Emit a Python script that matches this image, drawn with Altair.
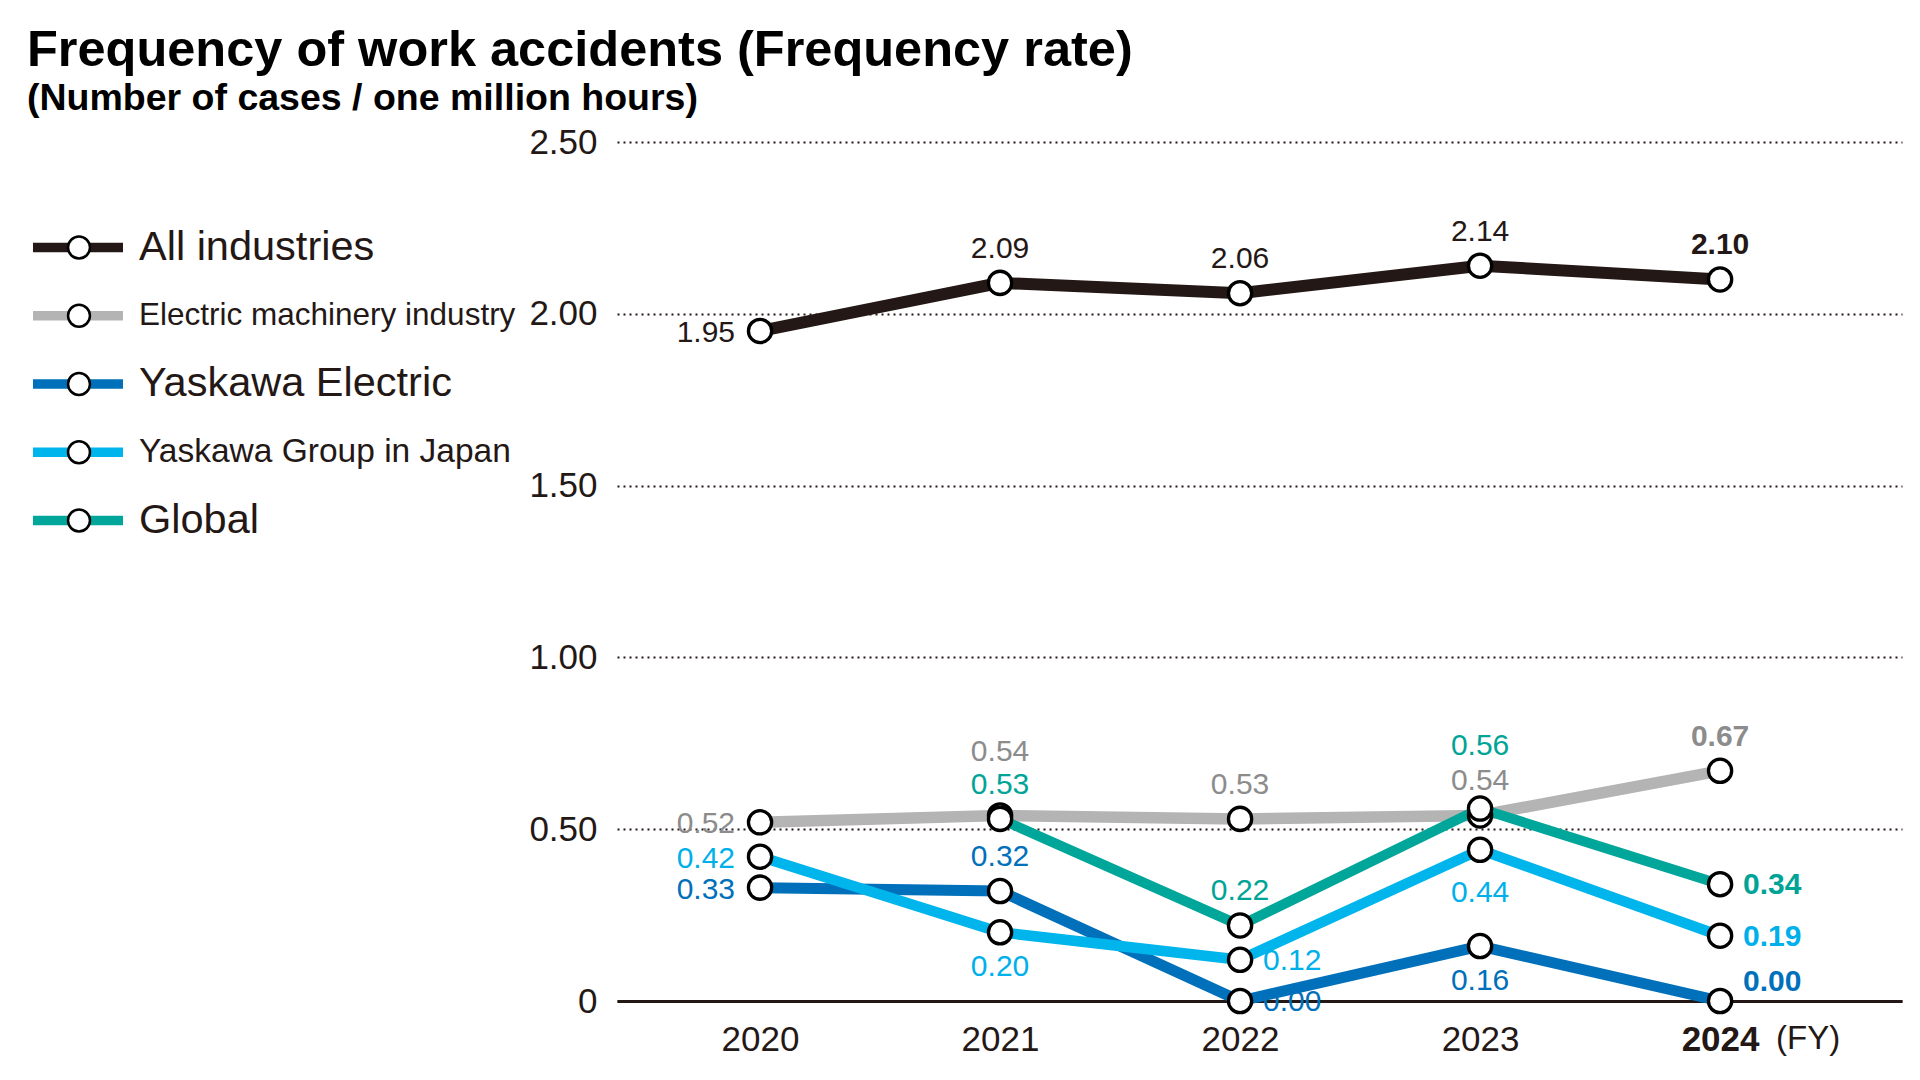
import altair as alt
import pandas as pd

# ---------------- data ----------------
YEARS = [2020, 2021, 2022, 2023, 2024]
SERIES = ["All industries", "Electric machinery industry", "Yaskawa Electric",
          "Yaskawa Group in Japan", "Global"]
ALL_INDUSTRIES = [1.95, 2.09, 2.06, 2.14, 2.10]
ELECTRIC_MACHINERY = [0.52, 0.54, 0.53, 0.54, 0.67]
YASKAWA_ELECTRIC = [0.33, 0.32, 0.00, 0.16, 0.00]
YASKAWA_GROUP_JAPAN = [0.42, 0.20, 0.12, 0.44, 0.19]
GLOBAL = [None, 0.53, 0.22, 0.56, 0.34]
Y_TICKS = [0, 0.5, 1.0, 1.5, 2.0, 2.5]
TITLE = "Frequency of work accidents (Frequency rate)"
SUBTITLE = "(Number of cases / one million hours)"
X_UNIT = "(FY)"

# ---------------- styles ----------------
LINE_COLORS = ["#231815", "#b4b4b5", "#0070bb", "#00b5ec", "#00a699"]
LABEL_COLORS = ["#231815", "#8c8c8c", "#0070bb", "#00b0ea", "#00a497"]
LINE_WIDTHS = [12, 10, 10, 10, 10]
INK = "#231815"
FONT = "Liberation Sans"

PLACE = {
    ("All industries", 2020): "left", ("All industries", 2021): "above",
    ("All industries", 2022): "above", ("All industries", 2023): "above",
    ("All industries", 2024): "above",
    ("Electric machinery industry", 2020): "left", ("Electric machinery industry", 2021): "above2",
    ("Electric machinery industry", 2022): "above", ("Electric machinery industry", 2023): "above",
    ("Electric machinery industry", 2024): "above",
    ("Yaskawa Electric", 2020): "left", ("Yaskawa Electric", 2021): "above",
    ("Yaskawa Electric", 2022): "right", ("Yaskawa Electric", 2023): "below",
    ("Yaskawa Electric", 2024): "rightup",
    ("Yaskawa Group in Japan", 2020): "left", ("Yaskawa Group in Japan", 2021): "below",
    ("Yaskawa Group in Japan", 2022): "right", ("Yaskawa Group in Japan", 2023): "below2",
    ("Yaskawa Group in Japan", 2024): "right",
    ("Global", 2021): "above", ("Global", 2022): "above", ("Global", 2023): "above2",
    ("Global", 2024): "right",
}
OFFSETS = {
    "left": dict(align="right", dx=-25, dy=2),
    "right": dict(align="left", dx=23, dy=1),
    "rightup": dict(align="left", dx=23, dy=-19),
    "above": dict(align="center", dx=0, dy=-34),
    "above2": dict(align="center", dx=0, dy=-63),
    "below": dict(align="center", dx=0, dy=35),
    "below2": dict(align="center", dx=0, dy=43),
}

# ---------------- table ----------------
values_by_series = dict(zip(SERIES, [ALL_INDUSTRIES, ELECTRIC_MACHINERY, YASKAWA_ELECTRIC,
                                     YASKAWA_GROUP_JAPAN, GLOBAL]))
draw_order = ["Electric machinery industry", "Yaskawa Electric", "Yaskawa Group in Japan",
              "Global", "All industries"]
rows = []
for s in draw_order:
    for y, v in zip(YEARS, values_by_series[s]):
        if v is None:
            continue
        rows.append({"series": s, "year": y, "value": v,
                     "place": PLACE[(s, y)], "bold": y == YEARS[-1]})
df = pd.DataFrame(rows)

X_ENC = alt.X(
    "year:Q",
    scale=alt.Scale(domain=[2019.404, 2024.758], nice=False, zero=False),
    axis=alt.Axis(values=YEARS, format="d", title=None, ticks=False, grid=False,
                  domain=True, domainColor=INK, domainWidth=3,
                  labelFont=FONT, labelFontSize=35, labelColor=INK, labelPadding=21,
                  labelFontWeight={"condition": {"test": f"datum.value == {YEARS[-1]}",
                                                 "value": "bold"}, "value": "normal"}),
)
Y_ENC = alt.Y(
    "value:Q",
    scale=alt.Scale(domain=[0, 2.5], nice=False, zero=True),
    axis=alt.Axis(values=Y_TICKS, title=None, ticks=False, domain=False, grid=True,
                  gridColor=INK, gridDash=[2, 4], gridWidth=2,
                  labelExpr="datum.value == 0 ? '0' : format(datum.value, '.2f')",
                  labelFont=FONT, labelFontSize=35, labelColor=INK, labelPadding=20),
)
STROKE = alt.Stroke("series:N", scale=alt.Scale(domain=SERIES, range=LINE_COLORS), legend=None)
FILL = alt.Fill("series:N", scale=alt.Scale(domain=SERIES, range=LABEL_COLORS), legend=None)
SW = alt.StrokeWidth("series:N", scale=alt.Scale(domain=SERIES, range=LINE_WIDTHS), legend=None)

lines = alt.Chart(df).mark_line().encode(
    x=X_ENC, y=Y_ENC, stroke=STROKE, strokeWidth=SW, order="year:Q")
points = alt.Chart(df).mark_point(shape="circle", filled=True, fill="white", stroke="#000",
                                  strokeWidth=3.3, size=540, opacity=1).encode(x=X_ENC, y=Y_ENC)

label_layers = []
for (p, b), sub in df.groupby(["place", "bold"]):
    o = OFFSETS[p]
    label_layers.append(
        alt.Chart(sub).mark_text(font=FONT, fontSize=30,
                                 fontWeight="bold" if b else "normal",
                                 baseline="middle", **o).encode(
            x=X_ENC, y=Y_ENC, text=alt.Text("value:Q", format=".2f"), fill=FILL)
    )

unit = alt.Chart(pd.DataFrame({"year": [YEARS[-1]], "value": [0], "t": [X_UNIT]})).mark_text(
    font=FONT, fontSize=33, align="left", baseline="middle", dx=56, dy=38, color=INK
).encode(x=X_ENC, y=Y_ENC, text="t:N")

main = alt.layer(lines, points, *label_layers, unit)

# ---------------- legend ----------------
leg_df = pd.DataFrame({"series": SERIES})
LEG_Y = alt.Y("series:N", scale=alt.Scale(type="point", domain=SERIES, range=[105.5, 378.5], padding=0),
              axis=None)
leg_rule = alt.Chart(leg_df).mark_rule(strokeWidth=9.5).encode(
    x=alt.value(-584), x2=alt.value(-494), y=LEG_Y, stroke=STROKE)
leg_pt = alt.Chart(leg_df).mark_point(shape="circle", filled=True, fill="white", stroke="#000",
                                      strokeWidth=2.5, size=480, opacity=1).encode(
    x=alt.value(-538), y=LEG_Y)
LEGEND_SIZES = {"All industries": 41.5, "Electric machinery industry": 31.5,
                "Yaskawa Electric": 41.5, "Yaskawa Group in Japan": 33.5, "Global": 41.5}
leg_txts = []
for size in sorted(set(LEGEND_SIZES.values())):
    names = [n for n in SERIES if LEGEND_SIZES[n] == size]
    leg_txts.append(
        alt.Chart(leg_df[leg_df.series.isin(names)]).mark_text(
            font=FONT, fontSize=size, align="left", baseline="middle", color=INK).encode(
            x=alt.value(-478), y=LEG_Y, text="series:N")
    )
legend = alt.layer(leg_rule, leg_pt, *leg_txts)

chart = alt.layer(main, legend).resolve_scale(y="independent").properties(
    width=1285, height=859,
    padding={"left": 609, "top": 134, "right": 10, "bottom": 71},
    autosize=alt.AutoSizeParams(type="none"),
    title=alt.TitleParams(
        text=TITLE, subtitle=SUBTITLE, anchor="start", frame="group", dx=-590, offset=8,
        font=FONT, fontSize=50.5, fontWeight="bold", color="#000",
        subtitleFont=FONT, subtitleFontSize=37.5, subtitleFontWeight="bold",
        subtitleColor="#000", subtitlePadding=3),
).configure_view(stroke=None)

chart.save("out.html", embed_options={"renderer": "svg", "actions": False})
